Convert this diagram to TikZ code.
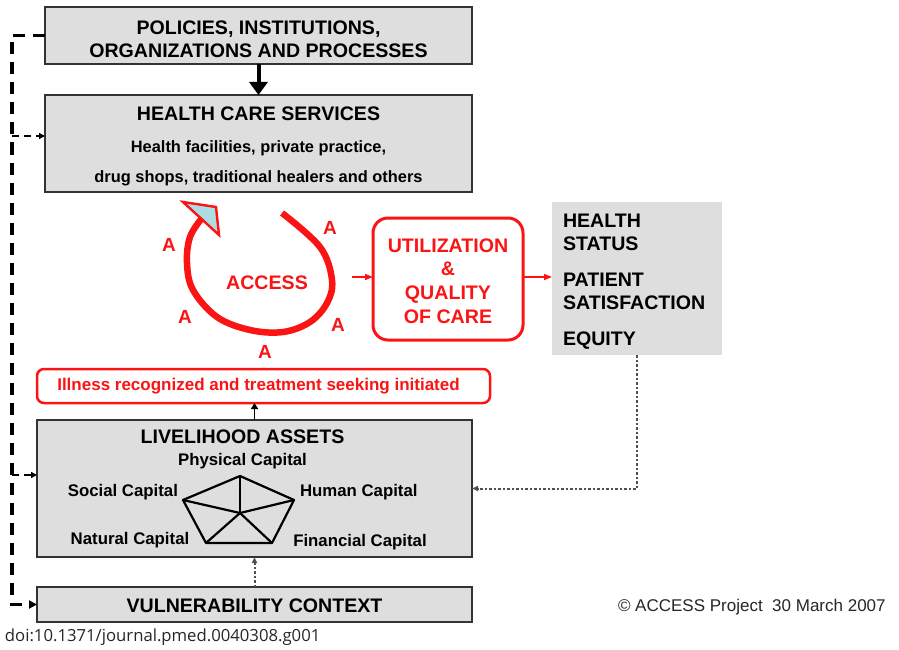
\documentclass[tikz,border=0pt]{standalone}
\usepackage{fontspec}
\setmainfont{Liberation Sans}
\newfontfamily\doifont{Open Sans}
\usetikzlibrary{arrows.meta}
\definecolor{boxgray}{RGB}{222,222,222}
\definecolor{accred}{RGB}{250,20,20}
\definecolor{tipcyan}{RGB}{170,222,226}
\definecolor{dotgray}{RGB}{80,80,80}
\begin{document}
\begin{tikzpicture}[x=1pt,y=-1pt,
  every node/.style={inner sep=0pt, outer sep=0pt},
  graybox/.style={draw=black!80, line width=1.4pt, fill=boxgray},
  bigtxt/.style={font=\bfseries\fontsize{19.6}{22.5}\selectfont, align=center},
  midtxt/.style={font=\bfseries\fontsize{16.4}{20}\selectfont},
  captxt/.style={font=\bfseries\fontsize{16.8}{20}\selectfont},
  redtxt/.style={text=accred, font=\bfseries\fontsize{19.6}{23.7}\selectfont, align=center},
  alabel/.style={text=accred, font=\bfseries\fontsize{19}{20}\selectfont},
  maindash/.style={line width=3.4pt, dash pattern=on 12pt off 8pt},
  branch/.style={line width=2.3pt, dash pattern=on 7pt off 5pt, -{Triangle[length=6pt,width=6pt]}},
  redarrow/.style={accred, line width=1.6pt, -{Triangle[length=8pt,width=6pt]}},
  dotarrow/.style={dotgray, line width=2pt, dash pattern=on 2.5pt off 2pt, -{Triangle[length=6pt,width=5pt]}}
]
\useasboundingbox (0,0) rectangle (899,650);

% boxes
\node[graybox, minimum width=427pt, minimum height=57pt] (pol) at (258.5,35.5) {};
\node[bigtxt] (poltxt) at (258.5,39.5) {POLICIES, INSTITUTIONS,\\ORGANIZATIONS AND PROCESSES};

\node[graybox, minimum width=427pt, minimum height=97pt] (hcs) at (258.5,143.5) {};
\node[bigtxt] (hcst) at (258.5,113.5) {HEALTH CARE SERVICES};
\node[midtxt] (hcs1) at (258.5,148.5) {Health facilities, private practice,};
\node[midtxt] (hcs2) at (258.5,178.5) {drug shops, traditional healers and others};

\node[draw=accred, line width=2.5pt, rounded corners=7pt, fill=white, minimum width=453pt, minimum height=34pt] (ill) at (263.5,386) {};
\node[text=accred, font=\bfseries\fontsize{17}{20}\selectfont] (illt) at (258.5,386.5) {Illness recognized and treatment seeking initiated};

\node[graybox, minimum width=435pt, minimum height=137pt] (liv) at (254.5,488.5) {};
\node[bigtxt] (livt) at (242.5,436.5) {LIVELIHOOD ASSETS};
\node[captxt] (phys) at (242.5,461.5) {Physical Capital};
\node[captxt, anchor=east] (soc) at (178,492) {Social Capital};
\node[captxt, anchor=west] (hum) at (300,492) {Human Capital};
\node[captxt] (nat) at (130,540) {Natural Capital};
\node[captxt] (fin) at (360,542) {Financial Capital};

\node[graybox, minimum width=435pt, minimum height=35pt] (vul) at (254.5,604.5) {};
\node[bigtxt] (vult) at (254.5,605.5) {VULNERABILITY CONTEXT};

% pentagon
\coordinate (pT) at (240,476);
\coordinate (pL) at (183,500);
\coordinate (pR) at (294,500);
\coordinate (pBL) at (206,543);
\coordinate (pBR) at (272,543);
\coordinate (pC) at (240,513);
\draw[line width=2.2pt, line join=round] (pT) -- (pR) -- (pBR) -- (pBL) -- (pL) -- cycle;
\foreach \v in {pT,pL,pR,pBL,pBR} \draw[line width=2.2pt] (pC) -- (\v);

% utilization and health status
\node[draw=accred, line width=3pt, rounded corners=15pt, minimum width=150pt, minimum height=122pt] (util) at (448,279) {};
\node[redtxt] (utilt) at (448,281) {UTILIZATION\\\&\\QUALITY\\OF CARE};

\node[fill=boxgray, minimum width=170pt, minimum height=153pt] (hs) at (637,278.5) {};
\node[font=\bfseries\fontsize{19.6}{23.5}\selectfont, align=left, anchor=west] (hst) at (563,281.5)
  {HEALTH\\STATUS\\[12pt]PATIENT\\SATISFACTION\\[12pt]EQUITY};

% access loop
\draw[accred, line width=2.4pt, fill=tipcyan, line join=miter] (183,202) -- (216,207) -- (219,235) -- cycle;
\draw[accred, line width=6.5pt] plot[smooth, tension=0.6] coordinates {(282,213) (320,247) (332,280) (327,303) (310,322) (283,332) (250,330) (217,317) (193,290) (187,263) (190,237) (202,218)};
\node[redtxt] (acc) at (267,283) {ACCESS};
\node[alabel] (a1) at (169,245) {A};
\node[alabel] (a2) at (330,228) {A};
\node[alabel] (a3) at (185,317) {A};
\node[alabel] (a4) at (338,325) {A};
\node[alabel] (a5) at (265,352) {A};

% connectors
\draw[line width=4pt, -{Triangle[length=13pt,width=18pt]}] (pol.south) -- (hcs.north);
\draw[maindash, -{Triangle[length=8pt,width=8pt]}] (pol.west) -- ++(-33,0) |- (vul.west);
\coordinate (j1) at (12,136);
\coordinate (j2) at (12,475);
\draw[branch] (j1) -- (j1 -| hcs.west);
\draw[branch] (j2) -- (j2 -| liv.west);
\draw[line width=1.8pt, -{Triangle[length=6pt,width=7pt]}] (liv.north) -- (liv.north |- ill.south);
\draw[dotarrow] (vul.north) -- (liv.south);
\coordinate (ls) at (352,277);
\draw[redarrow] (ls) -- (ls -| util.west);
\draw[redarrow] (util.east |- ls) -- (ls -| hs.west);
\draw[dotarrow] (hs.south) |- (liv.east);

% footer
\node[text=black!85, font=\fontsize{17}{20}\selectfont, anchor=west] (copy) at (618,607) {\textcopyright{} ACCESS Project\ \ 30 March 2007};
\node[text=black!85, font=\doifont\fontsize{16.7}{20}\selectfont, anchor=west] (doi) at (5,637) {doi:10.1371/journal.pmed.0040308.g001};
\end{tikzpicture}
\end{document}
